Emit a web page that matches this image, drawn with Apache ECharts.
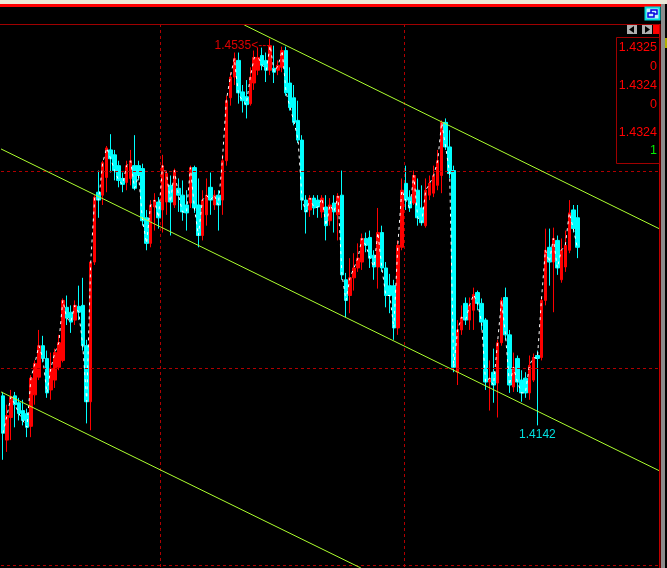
<!DOCTYPE html>
<html>
<head>
<meta charset="utf-8">
<style>html,body{margin:0;padding:0;background:#000;overflow:hidden}#c{width:667px;height:568px}</style>
<script src="https://cdn.jsdelivr.net/npm/echarts@6/dist/echarts.min.js"></script>
</head>
<body>
<div id="c"></div>
<script>
// Prices are written in points (price x 10000).
const opens = [14172,14127,14150,14172,14165,14157,14154,14141,14173,14191,14223,14210,14178,14188,14201,14208,14262,14257,14249,14263,14264,14223,14166,14308,14379,14376,14394,14422,14417,14406,14393,14389,14393,14406,14406,14403,14353,14327,14364,14369,14361,14369,14386,14366,14383,14376,14366,14368,14404,14366,14335,14356,14384,14366,14376,14371,14411,14475,14496,14513,14481,14476,14469,14490,14503,14518,14513,14503,14505,14503,14506,14523,14490,14475,14452,14432,14371,14361,14373,14371,14359,14364,14350,14368,14356,14376,14290,14274,14292,14302,14308,14332,14333,14315,14303,14338,14302,14284,14284,14241,14323,14388,14374,14368,14381,14363,14345,14376,14378,14386,14396,14450,14425,14401,14196,14239,14266,14249,14259,14277,14266,14249,14186,14196,14185,14226,14272,14234,14181,14210,14188,14190,14175,14188,14213,14211,14269,14323,14308,14330,14290,14303,14320,14361,14353];
const closes = [14134,14152,14171,14163,14154,14147,14140,14190,14205,14223,14210,14175,14200,14216,14226,14269,14251,14247,14264,14257,14223,14166,14308,14374,14371,14409,14424,14413,14401,14391,14387,14406,14411,14383,14396,14350,14327,14366,14371,14353,14406,14398,14369,14401,14376,14359,14358,14404,14363,14335,14371,14376,14371,14376,14366,14411,14472,14496,14515,14480,14472,14468,14496,14516,14516,14508,14503,14528,14501,14508,14523,14480,14465,14450,14432,14371,14359,14373,14363,14364,14373,14345,14366,14359,14375,14295,14269,14292,14302,14312,14332,14325,14312,14303,14338,14302,14274,14274,14241,14325,14381,14371,14363,14396,14353,14348,14381,14388,14396,14411,14450,14425,14398,14201,14239,14252,14249,14264,14275,14266,14247,14186,14190,14183,14226,14269,14234,14183,14201,14186,14175,14175,14203,14211,14210,14269,14320,14308,14332,14302,14320,14325,14358,14342,14323];
const lows = [14107,14115,14127,14140,14147,14142,14130,14130,14163,14188,14206,14170,14168,14180,14198,14206,14244,14236,14244,14249,14218,14144,14137,14305,14353,14366,14379,14399,14391,14384,14379,14381,14386,14381,14391,14345,14320,14323,14340,14342,14338,14356,14335,14363,14359,14350,14340,14363,14358,14323,14330,14345,14356,14361,14340,14356,14406,14467,14488,14469,14460,14454,14467,14483,14498,14503,14491,14498,14490,14498,14501,14477,14462,14447,14429,14361,14337,14354,14356,14353,14353,14330,14345,14338,14330,14290,14252,14256,14279,14298,14300,14318,14302,14290,14281,14298,14262,14256,14229,14234,14320,14361,14359,14366,14345,14345,14343,14371,14374,14381,14378,14422,14393,14196,14183,14234,14244,14239,14239,14259,14239,14178,14157,14165,14150,14223,14229,14175,14176,14176,14166,14170,14168,14186,14142,14208,14264,14284,14257,14295,14287,14298,14317,14338,14312];
const highs = [14176,14163,14178,14176,14170,14168,14159,14193,14208,14239,14233,14218,14216,14220,14234,14271,14274,14264,14269,14284,14292,14229,14308,14376,14401,14411,14426,14438,14422,14411,14399,14411,14422,14437,14411,14408,14361,14371,14378,14374,14417,14401,14396,14403,14393,14391,14381,14406,14406,14393,14381,14393,14399,14381,14381,14417,14477,14501,14521,14521,14488,14493,14506,14523,14526,14526,14521,14535,14528,14513,14527,14527,14506,14488,14472,14437,14376,14376,14376,14376,14376,14376,14373,14376,14378,14401,14297,14312,14317,14327,14337,14338,14340,14320,14363,14345,14308,14296,14290,14330,14393,14406,14381,14401,14393,14386,14393,14396,14406,14422,14452,14454,14442,14406,14249,14264,14272,14272,14282,14279,14271,14251,14208,14220,14229,14272,14282,14239,14216,14213,14198,14196,14213,14215,14218,14273,14342,14342,14343,14335,14332,14340,14371,14366,14366];

const barCount = 167;
const categories = Array.from({length: barCount}, (_, i) => String(i));
const verticalGridBars = [40, 101];
const horizontalGridPrices = [14400, 14200, 14000];
const priceMin = 13997;
const priceMax = 14550;

// Channel lines: [bar, price] at each end
const channelUpper = [[60.5, 14549], [165, 14341]];
const channelMiddle = [[-0.5, 14423], [165, 14095]];
const channelLower = [[-0.5, 14176], [89.75, 13997]];

const highLabel = '1.4535<---';
const lowLabel = '1.4142';
const highBar = 67, highPrice = 14535;
const lowBar = 134, lowPrice = 14142;

const panelTexts = [
  ['1.4325', 48, '#ff0000'],
  ['0', 67, '#ff0000'],
  ['1.4324', 86, '#ff0000'],
  ['0', 105, '#ff0000'],
  ['1.4324', 133, '#ff0000'],
  ['1', 151, '#00ee00']
];

const blank = ['-', '-', '-', '-'];
const candleData = opens.map((o, i) => [o, closes[i], lows[i], highs[i]]);
const upCandles = candleData.map(d => (d[1] >= d[0] ? d : blank));
const downCandles = candleData.map(d => (d[1] < d[0] ? d : blank));
const lineOf = (pts) => [{coord: pts[0]}, {coord: pts[1]}];

const chart = echarts.init(document.getElementById('c'), null, {renderer: 'canvas'});
const box = (x, y, w, h, fill, stroke, lw) => ({
  type: 'rect', shape: {x, y, width: w, height: h}, silent: true, z: 10,
  style: {fill: fill || 'transparent', stroke: stroke || null, lineWidth: stroke ? (lw || 1) : 0}
});
const graphicEls = [
  box(660, 0, 7, 568, '#000000'),
  box(661, 4, 4, 564, '#8c8c8c'),
  box(0, 0, 667, 4, '#ece9d8'),
  box(0, 4, 661, 3, '#ff0000'),
  box(0, 24, 660, 1, '#a00000'),
  box(659, 24, 1.5, 544, '#c00000'),
  box(616.5, 37.5, 43, 126, null, '#a00000'),
  box(627, 25, 10, 9, '#b0b0b0'),
  box(642, 25, 10, 9, '#b0b0b0'),
  box(653, 25, 6, 9, '#ff0000'),
  box(645.5, 7.5, 14, 12, '#c8f0ff', '#00dcdc', 2),
  box(651, 10, 6, 4, '#c8f0ff', '#0000e0', 1.5),
  box(648, 13, 6, 4, '#c8f0ff', '#0000e0', 1.5),
  {type: 'polygon', silent: true, z: 11, shape: {points: [[634, 26], [629, 29.5], [634, 33]]}, style: {fill: '#000000'}},
  {type: 'polygon', silent: true, z: 11, shape: {points: [[645, 26], [650, 29.5], [645, 33]]}, style: {fill: '#000000'}},
  box(665, 38, 2, 10, '#b0b000')
];
panelTexts.forEach(t => graphicEls.push({
  type: 'text', silent: true, z: 11, x: 657, y: t[1],
  style: {text: t[0], fill: t[2], font: '12.5px "Liberation Sans"', align: 'right', verticalAlign: 'middle'}
}));

chart.setOption({
  animation: false,
  backgroundColor: '#000000',
  grid: {left: 1, top: 24, width: 668, height: 544, containLabel: false},
  xAxis: [
    {
      type: 'category', data: categories, boundaryGap: true,
      axisLine: {show: false}, axisTick: {show: false}, axisLabel: {show: false},
      splitLine: {
        show: true,
        interval: (i) => verticalGridBars.includes(i),
        lineStyle: {color: '#b00000', type: [3, 3], width: 1}
      }
    },
    {
      type: 'value', min: -0.5, max: barCount - 0.5, show: false, splitLine: {show: false}
    }
  ],
  yAxis: {
    type: 'value', min: priceMin, max: priceMax, scale: true,
    axisLine: {show: false}, axisTick: {show: false}, axisLabel: {show: false},
    splitLine: {show: false}
  },
  graphic: graphicEls,
  series: [
    {
      type: 'line', data: [], z: 1, silent: true,
      markLine: {
        silent: true, symbol: 'none', label: {show: false},
        lineStyle: {color: '#b00000', type: [3, 3], width: 1},
        data: horizontalGridPrices.map(p => ({yAxis: p}))
      }
    },
    {
      type: 'candlestick', name: 'down', data: downCandles, barWidth: 4, z: 2, silent: true,
      itemStyle: {color: '#00ffff', color0: '#00ffff', borderColor: '#00ffff', borderColor0: '#00ffff', borderWidth: 1}
    },
    {
      type: 'candlestick', name: 'up', data: upCandles, barWidth: 3, z: 3, silent: true,
      itemStyle: {color: '#ff0000', color0: '#ff0000', borderColor: '#ff0000', borderColor0: '#ff0000', borderWidth: 1}
    },
    {
      type: 'line', data: closes, z: 4, silent: true, symbol: 'none',
      lineStyle: {color: '#ffffff', width: 1, type: [3, 4]}
    },
    {
      type: 'line', xAxisIndex: 1, data: [], z: 5, silent: true,
      markLine: {
        silent: true, symbol: 'none', label: {show: false},
        lineStyle: {color: '#adff2f', type: 'solid', width: 1},
        data: [lineOf(channelUpper), lineOf(channelMiddle), lineOf(channelLower)]
      }
    },
    {
      type: 'line', data: [], z: 6, silent: true,
      markPoint: {
        silent: true, symbol: 'circle', symbolSize: 0,
        data: [
          {coord: [highBar, highPrice], label: {show: true, formatter: highLabel, position: 'left', distance: 0, offset: [0, 7], color: '#e00000', fontSize: 12, fontFamily: 'Liberation Sans'}},
          {coord: [lowBar, lowPrice], label: {show: true, formatter: lowLabel, position: 'bottom', distance: 3, color: '#00e0e0', fontSize: 12, fontFamily: 'Liberation Sans'}}
        ]
      }
    }
  ]
});
</script>
</body>
</html>
